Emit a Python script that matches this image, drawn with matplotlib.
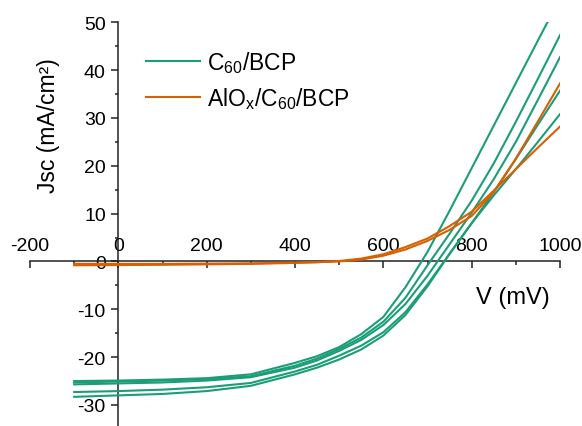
import matplotlib
matplotlib.use("Agg")
import matplotlib.pyplot as plt
from matplotlib.ticker import MultipleLocator

plt.rcParams['font.family'] = ['Liberation Sans', 'DejaVu Sans']
plt.rcParams['mathtext.fontset'] = 'custom'
plt.rcParams['mathtext.rm'] = 'Liberation Sans'
plt.rcParams['mathtext.it'] = 'Liberation Sans:italic'
plt.rcParams['mathtext.default'] = 'regular'
plt.rcParams['axes.unicode_minus'] = False

# Voltage (mV)
V = [-100, 0, 100, 200, 300, 400, 450, 500, 550, 600, 650, 700, 750, 800, 850, 900, 950, 1000]

# C60/BCP devices (mA/cm^2)
c60_a = [-25.0, -24.9, -24.7, -24.4, -23.6, -21.2, -19.8, -17.9, -15.2, -11.6, -5.4, 2.0, 10.6, 19.5, 28.4, 37.3, 46.2, 55.0]
c60_b = [-25.3, -25.1, -24.9, -24.6, -24.0, -21.8, -20.3, -18.3, -15.9, -12.6, -7.6, -0.8, 5.8, 12.7, 20.5, 29.2, 38.2, 47.3]
c60_c = [-25.7, -25.5, -25.3, -24.9, -24.2, -22.2, -20.7, -18.7, -16.4, -13.3, -8.9, -3.0, 3.6, 10.2, 17.2, 25.0, 33.8, 42.7]
c60_d = [-27.3, -27.1, -26.8, -26.3, -25.4, -23.0, -21.6, -19.7, -17.6, -14.8, -10.6, -4.8, 1.6, 8.0, 14.5, 21.4, 28.6, 35.7]
c60_e = [-28.3, -28.0, -27.7, -27.1, -26.0, -23.6, -22.2, -20.5, -18.4, -15.5, -11.2, -5.2, 1.6, 8.0, 13.8, 19.3, 25.0, 30.8]

# AlOx/C60/BCP devices (mA/cm^2)
alox_a = [-0.5, -0.5, -0.5, -0.45, -0.4, -0.25, -0.15, 0.0, 0.4, 1.2, 2.5, 4.3, 6.6, 9.5, 14.5, 21.5, 29.3, 37.2]
alox_b = [-0.8, -0.75, -0.7, -0.6, -0.5, -0.3, -0.15, 0.1, 0.6, 1.5, 3.0, 4.8, 7.4, 10.4, 14.8, 19.3, 23.8, 28.2]

green_series = [c60_a, c60_b, c60_c, c60_d, c60_e]
orange_series = [alox_a, alox_b]
labels = ['C$_{60}$/BCP', 'AlO$_{x}$/C$_{60}$/BCP']
green = '#1b9e77'
orange = '#d95f02'

fig = plt.figure(figsize=(5.82, 4.27), dpi=100)
ax = fig.add_axes([30/582, 0.0, 530/582, (427 - 23.3)/427])

for i, s in enumerate(green_series):
    ax.plot(V, s, color=green, lw=1.5, zorder=3, label=labels[0] if i == 0 else None)
for i, s in enumerate(orange_series):
    ax.plot(V, s, color=orange, lw=1.5, zorder=3, label=labels[1] if i == 0 else None)

ax.set_xlim(-200, 1000)
ax.set_ylim(-34.4, 50)

spine_c = '#222222'
ax.spines['left'].set_position(('data', 0))
ax.spines['bottom'].set_position(('data', 0))
ax.spines['top'].set_position(('data', 0))
ax.spines['top'].set_visible(False)
ax.spines['right'].set_visible(False)
for sp in ['left', 'bottom']:
    ax.spines[sp].set_color(spine_c)
    ax.spines[sp].set_linewidth(1.1)

ax.xaxis.set_major_locator(MultipleLocator(200))
ax.xaxis.set_minor_locator(MultipleLocator(100))
ax.yaxis.set_major_locator(MultipleLocator(10))
ax.yaxis.set_minor_locator(MultipleLocator(5))

ax.tick_params(axis='x', which='both', direction='out', bottom=True, top=False,
               labelbottom=False, labeltop=True, colors=spine_c, labelcolor='black',
               labelsize=14, pad=0.5)
ax.tick_params(axis='x', which='major', length=5, width=1.1)
ax.tick_params(axis='x', which='minor', length=3, width=1.1)
ax.tick_params(axis='y', which='both', direction='out', left=True, right=False,
               colors=spine_c, labelcolor='black', labelsize=14, pad=4)
ax.tick_params(axis='y', which='major', length=5, width=1.1)
ax.tick_params(axis='y', which='minor', length=2.5, width=1.1)

fig.text(48/582, 1 - 126/427, 'Jsc (mA/cm²)', rotation=90, ha='center', va='center', fontsize=16.5)
fig.text(513/582, 1 - 298/427, 'V (mV)', ha='center', va='center', fontsize=17)

leg = ax.legend(loc='upper left', bbox_to_anchor=(146/582, 1 - 50/427), bbox_transform=fig.transFigure,
                frameon=False, fontsize=16.5, handlelength=2.36, handletextpad=0.3,
                labelspacing=0.45, borderpad=0, borderaxespad=0)

fig.savefig('out.png', dpi=100)
